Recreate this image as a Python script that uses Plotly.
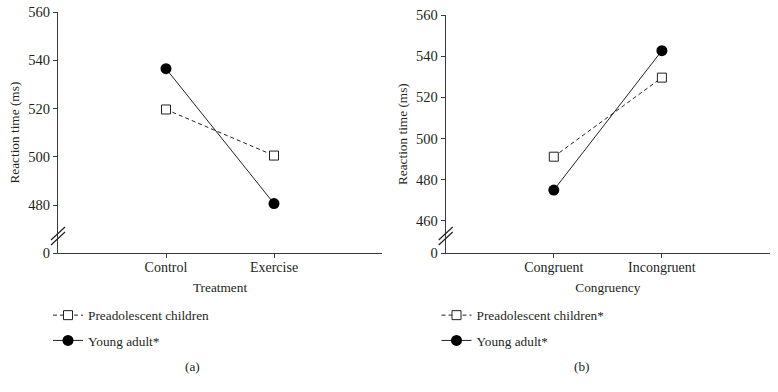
import plotly.graph_objects as go

# ---- data ----
treatments = ["Control", "Exercise"]
congruency = ["Congruent", "Incongruent"]
pre_a = [519.6, 500.5]
young_a = [536.5, 480.6]
pre_b = [491.2, 529.6]
young_b = [475.0, 542.7]

yticks_a = [460, 480, 500, 520, 540, 560]
yticklabels_a = ["0", "480", "500", "520", "540", "560"]
yticks_b = [444.3, 460, 480, 500, 520, 540, 560]
yticklabels_b = ["0", "460", "480", "500", "520", "540", "560"]

W, H = 778, 392
FONT = "Liberation Serif"
TXT = "#231f20"
AX = "#3a3a3a"


def px_x(p):
    return p / W


def px_y(p):
    return 1 - p / H


fig = go.Figure()

# panel a
fig.add_trace(go.Scatter(x=[1, 2], y=pre_a, xaxis="x", yaxis="y", mode="lines+markers",
                         name="Preadolescent children", legend="legend", legendgroup="a1",
                         line=dict(color="#222", width=1, dash="4px,3px"),
                         marker=dict(symbol="square", size=9, color="white", line=dict(color="#222", width=1))))
fig.add_trace(go.Scatter(x=[1, 2], y=young_a, xaxis="x", yaxis="y", mode="lines+markers",
                         name="Young adult*", legend="legend", legendgroup="a2",
                         line=dict(color="#222", width=1),
                         marker=dict(symbol="circle", size=11, color="black")))
# panel b
fig.add_trace(go.Scatter(x=[1, 2], y=pre_b, xaxis="x2", yaxis="y2", mode="lines+markers",
                         name="Preadolescent children*", legend="legend2", legendgroup="b1",
                         line=dict(color="#222", width=1, dash="4px,3px"),
                         marker=dict(symbol="square", size=9, color="white", line=dict(color="#222", width=1))))
fig.add_trace(go.Scatter(x=[1, 2], y=young_b, xaxis="x2", yaxis="y2", mode="lines+markers",
                         name="Young adult*", legend="legend2", legendgroup="b2",
                         line=dict(color="#222", width=1),
                         marker=dict(symbol="circle", size=11, color="black")))

common_x = dict(range=[0, 3], showline=True, linecolor=AX, linewidth=1, ticks="outside",
                ticklen=4, tickcolor=AX, showgrid=False, zeroline=False, automargin=False,
                ticklabelstandoff=-3,
                tickfont=dict(family=FONT, size=14, color=TXT),
                title_font=dict(family=FONT, size=13.3, color=TXT), title_standoff=8)
common_y = dict(showline=True, linecolor=AX, linewidth=1, ticks="outside", ticklen=4,
                tickcolor=AX, showgrid=False, zeroline=False, automargin=False,
                ticklabeloverflow="allow",
                tickfont=dict(family=FONT, size=14.5, color=TXT),
                title_font=dict(family=FONT, size=13.3, color=TXT), title_standoff=5)

leg_common = dict(xanchor="left", yanchor="top", bgcolor="rgba(0,0,0,0)",
                  itemwidth=30, tracegroupgap=5, font=dict(family=FONT, size=13.3, color=TXT),
                  traceorder="grouped")

fig.update_layout(
    width=W, height=H, margin=dict(l=0, r=0, t=0, b=0),
    paper_bgcolor="white", plot_bgcolor="white",
    font=dict(family=FONT, size=13, color=TXT),
    xaxis=dict(domain=[px_x(58), px_x(382)], anchor="y",
               tickvals=[1, 2], ticktext=treatments, title_text="Treatment", **common_x),
    yaxis=dict(domain=[px_y(253.3), px_y(12)], anchor="x", range=[460, 560],
               tickvals=yticks_a, ticktext=yticklabels_a, title_text="Reaction time (ms)", **common_y),
    xaxis2=dict(domain=[px_x(445.7), px_x(770)], anchor="y2",
                tickvals=[1, 2], ticktext=congruency, title_text="Congruency", **common_x),
    yaxis2=dict(domain=[px_y(253.3), px_y(15)], anchor="x2", range=[444.3, 560],
                tickvals=yticks_b, ticktext=yticklabels_b, title_text="Reaction time (ms)", **common_y),
    legend=dict(x=px_x(48), y=px_y(300), **leg_common),
    legend2=dict(x=px_x(436.5), y=px_y(300), **leg_common),
    showlegend=True,
)

# panel labels
fig.add_annotation(text="(a)", x=px_x(192), y=px_y(366), xref="paper", yref="paper",
                   xanchor="center", yanchor="middle",
                   showarrow=False, font=dict(family=FONT, size=13.3, color=TXT))
fig.add_annotation(text="(b)", x=px_x(582), y=px_y(366), xref="paper", yref="paper",
                   xanchor="center", yanchor="middle",
                   showarrow=False, font=dict(family=FONT, size=13.3, color=TXT))

# axis break marks
for ax0, cy in [(58, 236), (445.7, 236)]:
    for off in (-2.5, 2.5):
        fig.add_shape(type="line", xref="paper", yref="paper",
                      x0=px_x(ax0 - 7), y0=px_y(cy + 6.5 + off),
                      x1=px_x(ax0 + 7), y1=px_y(cy - 6.5 + off),
                      line=dict(color="#222", width=1.2))

# remove the default 8px page margin so the 778x392 figure fills the window exactly
fig.write_html("out.html", config={"displayModeBar": False},
               post_script="document.body.style.margin='0';document.body.style.overflow='hidden';")
